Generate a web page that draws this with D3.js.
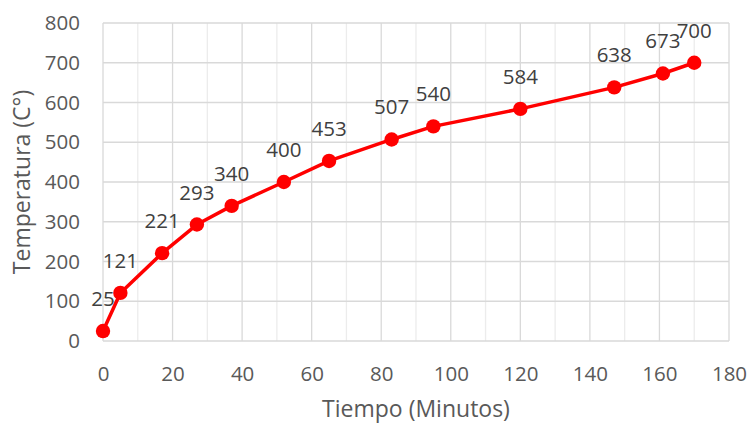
<!DOCTYPE html>
<html><head><meta charset="utf-8">
<script src="https://cdn.jsdelivr.net/npm/d3@7"></script>
<style>body{margin:0;background:#fff}svg{display:block}text{font-family:"Open Sans",sans-serif}</style>
</head><body><svg id="c" width="750" height="423"></svg>
<script>
const times = [0, 5, 17, 27, 37, 52, 65, 83, 95, 120, 147, 161, 170];
const temps = [25, 121, 221, 293, 340, 400, 453, 507, 540, 584, 638, 673, 700];
const xTicks = [0, 20, 40, 60, 80, 100, 120, 140, 160, 180];
const yTicks = [0, 100, 200, 300, 400, 500, 600, 700, 800];
const xTitle = "Tiempo (Minutos)";
const yTitle = "Temperatura (C°)";

const svg = d3.select("#c");
const x = d3.scaleLinear().domain([0, 180]).range([103, 729]);
const y = d3.scaleLinear().domain([0, 800]).range([341, 23]);

// minor vertical gridlines
svg.append("g").selectAll("line").data(d3.range(10, 180, 20)).join("line")
  .attr("x1", d => x(d)).attr("x2", d => x(d)).attr("y1", y(0)).attr("y2", y(800))
  .attr("stroke", "#ececec").attr("stroke-width", 1.3);
// major vertical gridlines
svg.append("g").selectAll("line").data(xTicks).join("line")
  .attr("x1", d => x(d)).attr("x2", d => x(d)).attr("y1", y(0)).attr("y2", y(800))
  .attr("stroke", "#d9d9d9").attr("stroke-width", 1.3);
// horizontal gridlines
svg.append("g").selectAll("line").data(yTicks).join("line")
  .attr("x1", x(0)).attr("x2", x(180)).attr("y1", d => y(d)).attr("y2", d => y(d))
  .attr("stroke", "#d9d9d9").attr("stroke-width", 1.3);

const xAxis = svg.append("g").attr("transform", `translate(0,${y(0)})`)
  .call(d3.axisBottom(x).tickValues(xTicks).tickSize(0).tickPadding(25));
xAxis.select(".domain").remove();
xAxis.selectAll("text").attr("font-size", 20.5).attr("fill", "#595959").attr("font-family", "Open Sans");

const yAxis = svg.append("g").attr("transform", `translate(80,0)`)
  .call(d3.axisLeft(y).tickValues(yTicks).tickSize(0).tickPadding(0));
yAxis.select(".domain").remove();
yAxis.selectAll("text").attr("font-size", 20.5).attr("fill", "#595959").attr("font-family", "Open Sans");

svg.append("text").attr("x", 416).attr("y", 417).attr("text-anchor", "middle")
  .attr("font-size", 23).attr("fill", "#595959").text(xTitle);
svg.append("text").attr("transform", `translate(30,182) rotate(-90)`).attr("text-anchor", "middle")
  .attr("font-size", 23).attr("fill", "#595959").text(yTitle);

const data = times.map((t, i) => ({t, v: temps[i]}));
svg.append("path").datum(data)
  .attr("d", d3.line().x(d => x(d.t)).y(d => y(d.v)))
  .attr("fill", "none").attr("stroke", "#ff0000").attr("stroke-width", 3.5).attr("stroke-linejoin", "round");
svg.append("g").selectAll("circle").data(data).join("circle")
  .attr("cx", d => x(d.t)).attr("cy", d => y(d.v)).attr("r", 7.2).attr("fill", "#ff0000");
svg.append("g").selectAll("text").data(data).join("text")
  .attr("x", d => x(d.t)).attr("y", d => y(d.v) - 25).attr("text-anchor", "middle")
  .attr("font-size", 20.5).attr("fill", "#404040").text(d => d.v);
</script></body></html>
